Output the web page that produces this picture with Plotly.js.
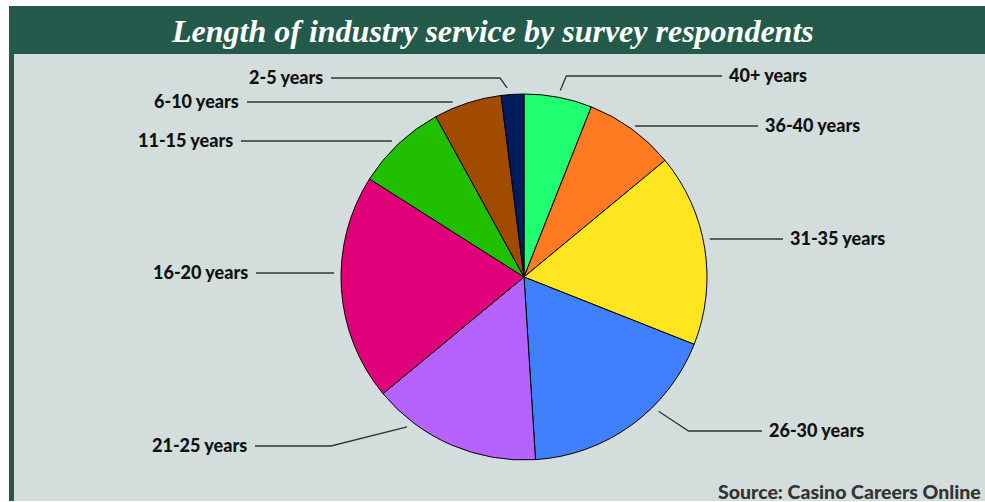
<!DOCTYPE html>
<html>
<head>
<meta charset="utf-8">
<script src="https://cdn.plot.ly/plotly-3.0.1.min.js"></script>
<style>html,body{margin:0;padding:0;background:#fff;}#chart{width:985px;height:502px;}</style>
</head>
<body>
<div id="chart"></div>
<script>
// ---- data ----
const categories = ['40+ years','36-40 years','31-35 years','26-30 years','21-25 years','16-20 years','11-15 years','6-10 years','2-5 years'];
const shares = [6, 8, 17, 18, 15, 20, 8, 6, 2];
const sliceColors = ['#20FF70','#FF7A20','#FFE620','#4080FF','#B562FF','#E0007A','#20BF00','#A04B00','#001C5C'];
const titleText = 'Length of industry service by survey respondents';
const sourceText = 'Source: Casino Careers Online';

// ---- layout config (pixels) ----
const W = 985, H = 502;
const pie = {cx: 524, cy: 277, r: 183};
const labelSide   = ['L','L','L','L','R','R','R','R','R'];
const labelX      = [727, 763, 788, 767, 249, 250, 235, 241, 325];
const labelY      = [75, 125, 238, 430, 445, 272, 140, 101, 77];
const pointerFrac = [0.51, 0.49, 0.45, 0.36, 0.77, 0.53, 0.47, 0.31, 0.29];
const elbowDx     = [6, 0, 0, 30, 76, 0, 0, 0, 7];

const px = x => x / W;
const py = y => 1 - y / H;

const total = shares.reduce((a, b) => a + b, 0);
const shapes = [
  {type:'rect', xref:'paper', yref:'paper', x0:px(9), x1:px(985), y0:py(54), y1:py(6), fillcolor:'#235A4B', line:{width:0}, layer:'below'},
  {type:'rect', xref:'paper', yref:'paper', x0:px(14), x1:px(985), y0:py(501), y1:py(54), fillcolor:'#D3DDDB', line:{width:0}, layer:'below'},
  {type:'rect', xref:'paper', yref:'paper', x0:px(9), x1:px(14), y0:py(501), y1:py(54), fillcolor:'#235A4B', line:{width:0}, layer:'below'}
];
const annotations = [
  {text: titleText, xref:'paper', yref:'paper', x:px(492), y:py(31), xanchor:'center', yanchor:'middle', showarrow:false,
   font:{family:'Liberation Serif, serif', size:32, color:'#ffffff', style:'italic', weight:700}},
  {text: sourceText, xref:'paper', yref:'paper', x:px(983), y:py(491), xanchor:'right', yanchor:'middle', showarrow:false,
   font:{family:'Lato, sans-serif', size:19.5, color:'#333333', weight:900}}
];

let cum = 0;
categories.forEach((cat, i) => {
  const a0 = cum / total * 360;
  cum += shares[i];
  const a1 = cum / total * 360;
  const ang = (a0 + (a1 - a0) * pointerFrac[i]) * Math.PI / 180;
  const R = pie.r + 7;
  const sx = pie.cx + R * Math.sin(ang);
  const sy = pie.cy - R * Math.cos(ang);
  const ly = labelY[i] + 1;
  const left = labelSide[i] === 'L';
  const endX = left ? labelX[i] - 5 : labelX[i] + 6;
  let path;
  if (elbowDx[i] === 0) {
    path = `M ${px(sx)},${py(ly)} L ${px(endX)},${py(ly)}`;
  } else {
    const ex = left ? sx + elbowDx[i] : sx - elbowDx[i];
    path = `M ${px(sx)},${py(sy)} L ${px(ex)},${py(ly)} L ${px(endX)},${py(ly)}`;
  }
  shapes.push({type:'path', xref:'paper', yref:'paper', path, line:{color:'#333333', width:1.3}});
  annotations.push({text: cat, xref:'paper', yref:'paper', x:px(labelX[i]), y:py(labelY[i]),
    xanchor: left ? 'left' : 'right', yanchor:'middle', showarrow:false,
    font:{family:'Lato, sans-serif', size:18, color:'#111111', weight:900}});
});

const trace = {
  type:'pie', labels: categories, values: shares, sort:false, direction:'clockwise', rotation:0,
  marker:{colors: sliceColors, line:{color:'#000000', width:1}},
  textinfo:'none', hoverinfo:'none', showlegend:false,
  domain:{x:[px(pie.cx - pie.r), px(pie.cx + pie.r)], y:[py(pie.cy + pie.r), py(pie.cy - pie.r)]}
};

Plotly.newPlot('chart', [trace], {
  width: W, height: H, margin:{l:0, r:0, t:0, b:0},
  paper_bgcolor:'#ffffff', plot_bgcolor:'rgba(0,0,0,0)',
  shapes, annotations
}, {displayModeBar:false, staticPlot:true});
</script>
</body>
</html>
